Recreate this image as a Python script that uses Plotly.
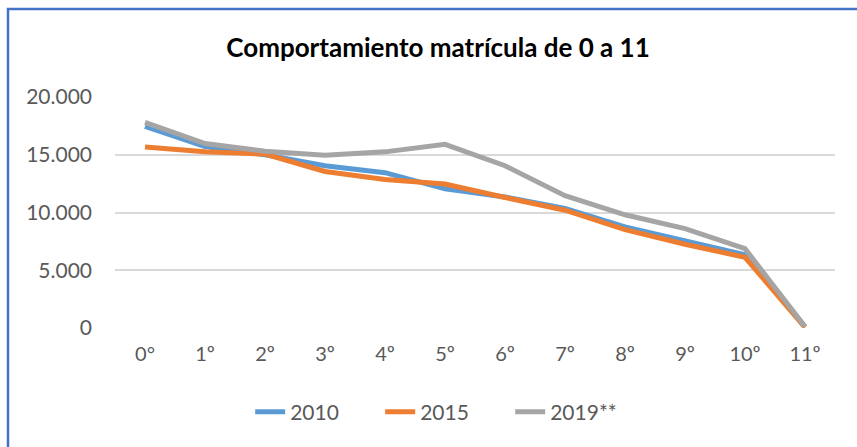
import plotly.graph_objects as go

categories = ["0°", "1º", "2º", "3º", "4º", "5º", "6º", "7º", "8º", "9º", "10º", "11º"]
values_2010 = [17450, 15700, 15000, 14050, 13450, 12050, 11350, 10350, 8750, 7550, 6350, 100]
values_2015 = [15680, 15260, 15060, 13550, 12850, 12470, 11300, 10200, 8520, 7250, 6120, 50]
values_2019 = [17800, 15970, 15300, 14950, 15250, 15900, 14050, 11450, 9800, 8600, 6870, 120]
series_names = ["2010", "2015", "2019**"]
series_colors = ["#5B9BD5", "#ED7D31", "#A5A5A5"]
y_ticks = [0, 5000, 10000, 15000, 20000]

FONT = "Lato, Open Sans, sans-serif"

fig = go.Figure()
for name, vals, col in zip(series_names, [values_2010, values_2015, values_2019], series_colors):
    fig.add_trace(go.Scatter(x=categories, y=vals, mode="lines", name=name,
                             line=dict(color=col, width=5)))

L, R, T, B = 115, 22, 97, 119
W, H = 857, 447
pw, ph = W - L - R, H - T - B

fig.update_layout(
    width=W, height=H,
    margin=dict(l=L, r=R, t=T, b=B, pad=0, autoexpand=False),
    paper_bgcolor="white", plot_bgcolor="white",
    separators=",.",
    title=dict(text="<b>Comportamiento matrícula de 0 a 11</b>",
               x=438 / W, xanchor="center", y=1 - 48 / H, yanchor="middle",
               font=dict(family=FONT, size=26, color="#000000")),
    xaxis=dict(type="category", showgrid=False, showline=False, zeroline=False,
               ticks="", tickfont=dict(family=FONT, size=20, color="#595959"),
               ticklabelstandoff=12, range=[-0.5, 11.5]),
    yaxis=dict(range=[0, 20000], tickvals=y_ticks, tickformat=",d",
               showgrid=True, gridcolor="#D9D9D9", gridwidth=1.5, zeroline=False,
               showline=False, ticks="",
               tickfont=dict(family=FONT, size=21, color="#595959"),
               ticklabelstandoff=22),
    legend=dict(orientation="h", x=393 / W, xanchor="center", yref="container",
                y=1 - 412 / H, yanchor="middle",
                font=dict(family=FONT, size=21, color="#595959"),
                tracegroupgap=0, entrywidth=85, entrywidthmode="pixels"),
    showlegend=True,
)

# chart border
fig.add_shape(type="rect", xref="paper", yref="paper",
              x0=(8 - L) / pw, x1=(W + 5 - L) / pw,
              y0=(H - B - (H + 5)) / ph, y1=(H - B - 9) / ph,
              line=dict(color="#4472C4", width=2.5), fillcolor="rgba(0,0,0,0)", layer="below")

fig.write_html("out.html", config={"displayModeBar": False},
               post_script="document.body.style.margin='0';document.body.style.overflow='hidden';")
